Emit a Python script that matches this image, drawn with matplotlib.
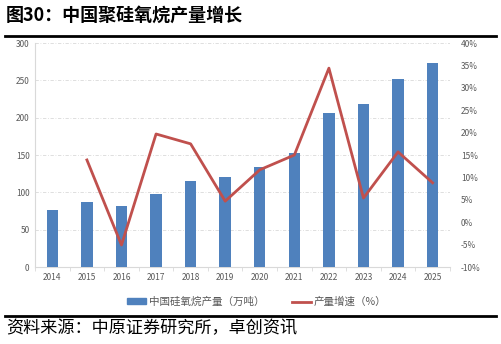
import matplotlib
matplotlib.use("Agg")
import matplotlib.pyplot as plt
from matplotlib.lines import Line2D
from matplotlib.patches import Patch

plt.rcParams['font.family'] = ['Noto Sans CJK SC', 'DejaVu Sans']

years = ['2014', '2015', '2016', '2017', '2018', '2019', '2020', '2021', '2022', '2023', '2024', '2025']
production = [76, 87, 82, 98, 115, 120, 134, 153, 206, 218, 252, 273]
growth_years = years[1:]
growth = [13.9, -5.1, 19.7, 17.5, 4.7, 11.7, 15.0, 34.4, 5.4, 15.7, 8.8]

bar_color = '#4F81BD'
line_color = '#C0504D'
tick_color = '#595959'

fig = plt.figure(figsize=(5.01, 3.44), dpi=100)
ax = fig.add_axes([0.070, 0.2238, 0.828, 0.651])
x = list(range(len(years)))
ax.bar(x, production, width=0.33, color=bar_color, zorder=3)
ax.set_ylim(0, 300)
ax.set_yticks(range(0, 301, 50))
ax.set_xlim(-0.5, len(years) - 0.5)
ax.set_xticks(x)
ax.set_xticklabels(years)
ax.grid(axis='y', color='#D9D9D9', linestyle=(0, (4, 2, 1, 2)), linewidth=0.6, zorder=0)
for s in ['top', 'right']:
    ax.spines[s].set_visible(False)
ax.spines['left'].set_color('#D9D9D9')
ax.spines['bottom'].set_color('#D9D9D9')
ax.tick_params(axis='both', labelsize=6, colors=tick_color, length=0, pad=4)
ax.set_xticks([i + 0.5 for i in range(-1, len(years))], minor=True)
ax.tick_params(axis='x', which='minor', length=3, color='#D9D9D9')
ax.tick_params(axis='x', which='major', length=0)

ax2 = ax.twinx()
gx = [years.index(y) for y in growth_years]
ax2.plot(gx, growth, color=line_color, linewidth=2, zorder=4)
ax2.set_ylim(-10, 40)
ax2.set_yticks(range(-10, 41, 5))
ax2.set_yticklabels([f'{v}%' for v in range(-10, 41, 5)])
for s in ['top', 'right', 'left', 'bottom']:
    ax2.spines[s].set_visible(False)
ax2.tick_params(axis='y', labelsize=6, colors=tick_color, length=0, pad=8)

handles = [Patch(color=bar_color, label='中国硅氧烷产量（万吨）'),
           Line2D([0], [0], color=line_color, linewidth=2, label='产量增速（%）')]
leg = fig.legend(handles=handles, loc='center', bbox_to_anchor=(0.512, 0.122), ncol=2,
                 frameon=False, fontsize=7.6, handlelength=1.8, handleheight=0.5,
                 columnspacing=2.6, handletextpad=0.3)
for t in leg.get_texts():
    t.set_color(tick_color)

fig.text(0.012, 0.955, '图30：中国聚硅氧烷产量增长', fontsize=13, fontweight='bold',
         va='center', ha='left', color='black')
fig.add_artist(Line2D([0.01, 0.99], [0.895, 0.895], color='black', linewidth=2))
fig.add_artist(Line2D([0.01, 0.99], [0.081, 0.081], color='black', linewidth=2))
fig.text(0.012, 0.045, '资料来源：中原证券研究所，卓创资讯', fontsize=12.3,
         va='center', ha='left', color='black')

fig.savefig('out.png', dpi=100)
